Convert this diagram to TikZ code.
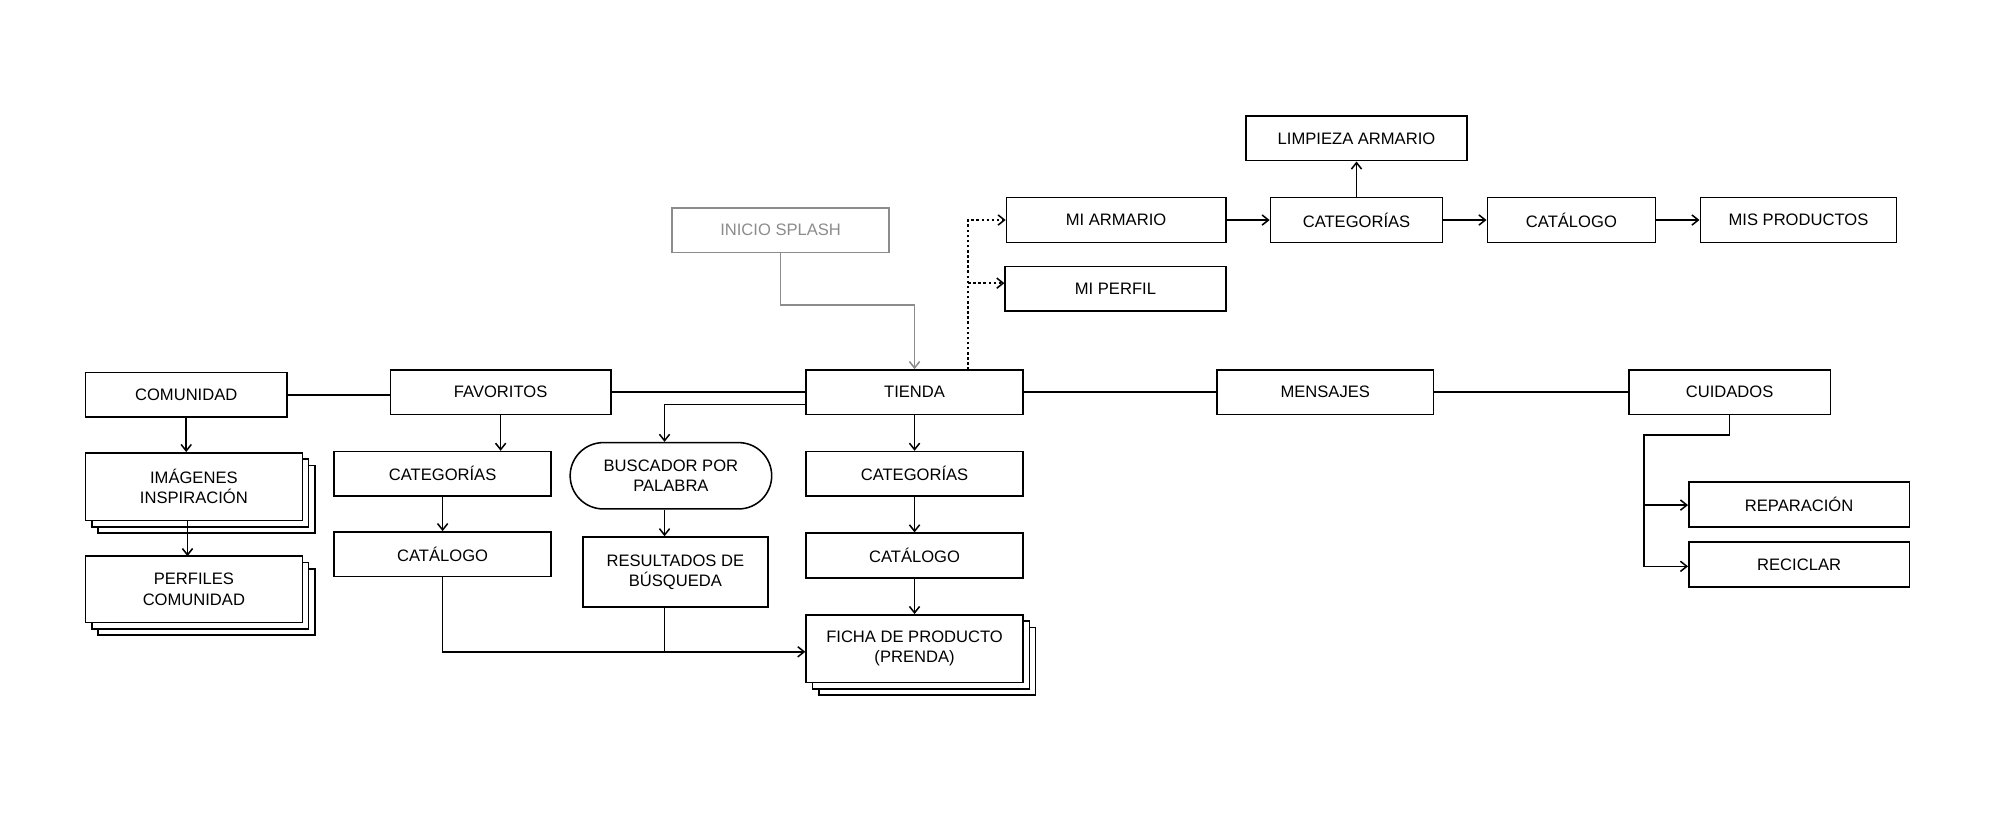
\documentclass[tikz,border=0pt]{standalone}
\usepackage{fontspec}
\setmainfont{Liberation Sans}
\usetikzlibrary{arrows.meta}
\begin{document}
\begin{tikzpicture}[x=1pt,y=-1pt,
  line width=1.2pt,
  box/.style={draw,fill=white,inner sep=0pt,align=center,font=\fontsize{13}{16}\selectfont},
  ar/.style={-{Straight Barb[length=5pt,width=8pt]}},
  dt/.style={ar,dash pattern=on 2pt off 2pt}]
\useasboundingbox (0,0) rectangle (1568,651);
\newcommand{\bx}[6][]{\node[box,#1,minimum width={#4-#2},minimum height={#5-#3}] (#6) at ({(#2+#4)/2},{(#3+#5)/2}) {\strut};}
% stacked backs
\foreach \d in {10,5}{
 \draw[fill=white] (67+\d,355+\d) rectangle (237+\d,408+\d);
 \draw[fill=white] (67+\d,436+\d) rectangle (237+\d,488+\d);
 \draw[fill=white] (632+\d,482+\d) rectangle (802+\d,535+\d);}
\node[box,minimum width=158,minimum height=35] (com) at (146,309.5) {COMUNIDAD};
\node[box,minimum width=173,minimum height=35] (fav) at (392.5,307.5) {FAVORITOS};
\node[box,minimum width=170,minimum height=35] (tie) at (717,307.5) {TIENDA};
\node[box,minimum width=170,minimum height=35] (men) at (1039,307.5) {MENSAJES};
\node[box,minimum width=158,minimum height=35] (cui) at (1356,307.5) {CUIDADOS};
\node[box,minimum width=170,minimum height=53] (img) at (152,381.5) {IMÁGENES\\INSPIRACIÓN};
\node[box,minimum width=170,minimum height=52] (per) at (152,462) {PERFILES\\COMUNIDAD};
\node[box,minimum width=170,minimum height=35] (fcat) at (347,371.5) {CATEGORÍAS};
\node[box,minimum width=170,minimum height=35] (fcal) at (347,434.5) {CATÁLOGO};
\node[box,rounded corners=26pt,minimum width=158,minimum height=52] (bus) at (526,373) {BUSCADOR POR\\PALABRA};
\node[box,minimum width=145,minimum height=55] (res) at (529.5,448.5) {RESULTADOS DE\\BÚSQUEDA};
\node[box,minimum width=170,minimum height=35] (tcat) at (717,371.5) {CATEGORÍAS};
\node[box,minimum width=170,minimum height=35] (tcal) at (717,435.5) {CATÁLOGO};
\node[box,minimum width=170,minimum height=53] (fic) at (717,508.5) {FICHA DE PRODUCTO\\(PRENDA)};
\node[box,draw=black!45,text=black!45,minimum width=170,minimum height=35] (spl) at (612,180.5) {INICIO SPLASH};
\node[box,minimum width=172,minimum height=35] (arm) at (875,172.5) {MI ARMARIO};
\node[box,minimum width=173,minimum height=35] (mip) at (874.5,226.5) {MI PERFIL};
\node[box,minimum width=135,minimum height=35] (acat) at (1063.5,172.5) {CATEGORÍAS};
\node[box,minimum width=132,minimum height=35] (acal) at (1232,172.5) {CATÁLOGO};
\node[box,minimum width=154,minimum height=35] (mis) at (1410,172.5) {MIS PRODUCTOS};
\node[box,minimum width=173,minimum height=35] (lim) at (1063.5,108.5) {LIMPIEZA ARMARIO};
\node[box,minimum width=173,minimum height=35] (rep) at (1410.5,395.5) {REPARACIÓN};
\node[box,minimum width=173,minimum height=35] (rec) at (1410.5,442.5) {RECICLAR};
% horizontal spine
\draw (com.east) -- (com.east -| fav.west);
\draw (fav.east) -- (fav.east -| tie.west);
\draw (tie.east) -- (tie.east -| men.west);
\draw (men.east) -- (men.east -| cui.west);
% left
\draw[ar] (com.south) -- (com.south |- img.north);
\draw[ar] (147,408) -- (147,436);
\draw[ar] (fav.south) -- (fav.south |- fcat.north);
\draw[ar] (fcat) -- (fcal);
\coordinate (j) at (521,511);
\draw[ar] (fcal.south) -- (347,511) -- (fic.west |- j);
\draw (res.south -| j) -- (j);
\draw[ar] (tie.west |- 0,317) -- (521,317) -- (bus.north -| 521,0);
\draw[ar] (bus.south -| 521,0) -- (res.north -| 521,0);
\draw[ar] (tie) -- (tcat);
\draw[ar] (tcat) -- (tcal);
\draw[ar] (tcal) -- (fic);
\draw[ar,black!45] (spl.south) -- (612,239) -- (717,239) -- (tie.north);
% dotted
\draw[dt] (759,290) -- (759,172.5) -- (arm.west);
\draw[dt] (759,222) -- (mip.west |- 0,222);
\draw[ar] (arm) -- (acat);
\draw[ar] (acat) -- (acal);
\draw[ar] (acal) -- (mis);
\draw[ar] (acat) -- (lim);
% cuidados
\draw[ar] (cui.south) -- (1356,341) -- (1289,341) -- (1289,444) -- (rec.west |- 0,444);
\draw[ar] (1289,396) -- (rep.west |- 0,396);
\end{tikzpicture}
\end{document}
